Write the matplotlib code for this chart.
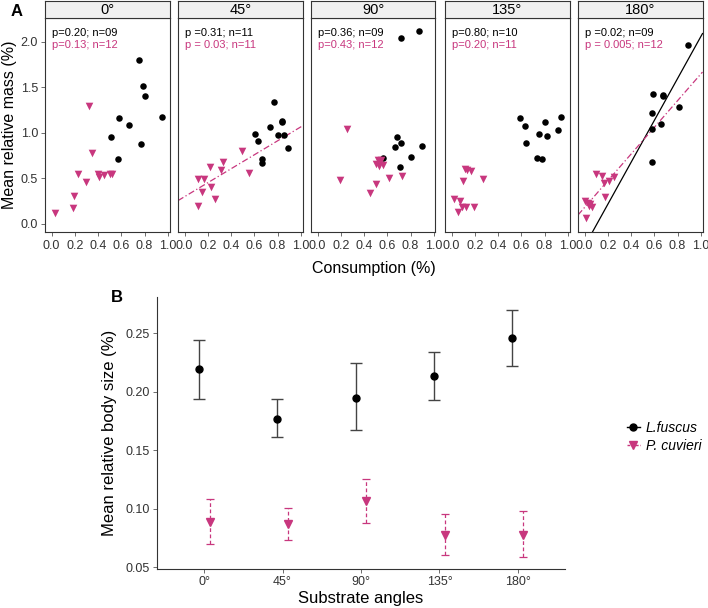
import numpy as np
import matplotlib
matplotlib.use("Agg")
import matplotlib.pyplot as plt
from matplotlib.lines import Line2D

plt.rcParams['font.family'] = ['Liberation Sans', 'DejaVu Sans']
narrow = ['Liberation Sans Narrow', 'Liberation Sans', 'DejaVu Sans']

pink = '#C8377E'

# ---- Panel A data (consumption vs relative mass) ----
angles = ['0°', '45°', '90°', '135°', '180°']

lf_x0 = [0.751, 0.791, 0.806, 0.58, 0.951, 0.666, 0.514, 0.769, 0.569]
lf_y0 = [1.799, 1.514, 1.404, 1.166, 1.177, 1.09, 0.951, 0.874, 0.713]
pc_x0 = [0.026, 0.186, 0.191, 0.231, 0.30, 0.323, 0.351, 0.40, 0.409, 0.449, 0.50, 0.52]
pc_y0 = [0.124, 0.172, 0.307, 0.548, 0.461, 1.294, 0.775, 0.548, 0.519, 0.541, 0.548, 0.548]

lf_x45 = [0.609, 0.634, 0.766, 0.734, 0.837, 0.840, 0.803, 0.86, 0.889, 0.669, 0.669]
lf_y45 = [0.987, 0.91, 1.342, 1.06, 1.133, 1.12, 0.98, 0.973, 0.834, 0.717, 0.665]
pc_x45 = [0.117, 0.163, 0.149, 0.114, 0.22, 0.223, 0.263, 0.309, 0.331, 0.491, 0.551]
pc_y45 = [0.49, 0.497, 0.351, 0.197, 0.622, 0.402, 0.271, 0.592, 0.68, 0.797, 0.563]

lf_x90 = [0.871, 0.717, 0.686, 0.717, 0.663, 0.903, 0.803, 0.566, 0.709]
lf_y90 = [2.113, 2.044, 0.954, 0.892, 0.845, 0.852, 0.735, 0.724, 0.625]
pc_x90 = [0.249, 0.189, 0.454, 0.506, 0.614, 0.726, 0.52, 0.534, 0.506, 0.563, 0.529, 0.546]
pc_y90 = [1.046, 0.483, 0.344, 0.442, 0.501, 0.523, 0.702, 0.691, 0.658, 0.651, 0.64, 0.702]

lf_x135 = [0.586, 0.634, 0.643, 0.751, 0.806, 0.82, 0.734, 0.78, 0.92, 0.943]
lf_y135 = [1.159, 1.079, 0.892, 0.991, 1.119, 0.962, 0.724, 0.717, 1.031, 1.17]
pc_x135 = [0.114, 0.134, 0.163, 0.097, 0.271, 0.023, 0.069, 0.057, 0.091, 0.123, 0.197]
pc_y135 = [0.6, 0.592, 0.585, 0.472, 0.49, 0.278, 0.256, 0.128, 0.19, 0.19, 0.19]

lf_x180 = [0.886, 0.586, 0.671, 0.677, 0.809, 0.58, 0.654, 0.58, 0.58]
lf_y180 = [1.967, 1.422, 1.404, 1.411, 1.283, 1.214, 1.097, 1.038, 0.684]
pc_x180 = [0.10, 0.149, 0.163, 0.214, 0.254, 0.177, 0.0, 0.026, 0.049, 0.063, 0.014, 0.04]
pc_y180 = [0.548, 0.53, 0.453, 0.472, 0.516, 0.30, 0.256, 0.234, 0.219, 0.183, 0.062, 0.197]

lf_x = [lf_x0, lf_x45, lf_x90, lf_x135, lf_x180]
lf_y = [lf_y0, lf_y45, lf_y90, lf_y135, lf_y180]
pc_x = [pc_x0, pc_x45, pc_x90, pc_x135, pc_x180]
pc_y = [pc_y0, pc_y45, pc_y90, pc_y135, pc_y180]

lf_txt = ['p=0.20; n=09', 'p =0.31; n=11', 'p=0.36; n=09', 'p=0.80; n=10', 'p =0.02; n=09']
pc_txt = ['p=0.13; n=12', 'p = 0.03; n=11', 'p=0.43; n=12', 'p=0.20; n=11', 'p = 0.005; n=12']

# fitted lines (intercept, slope), None where not significant
lf_fit = [None, None, None, None, (-0.243, 2.298)]
pc_fit = [None, (0.30, 0.765), None, None, (0.182, 1.463)]

# ---- Panel B data (body size by substrate angle) ----
lf_mean = [0.219, 0.177, 0.195, 0.213, 0.2455]
lf_lo = [0.194, 0.161, 0.1668, 0.193, 0.2218]
lf_hi = [0.244, 0.1936, 0.2244, 0.234, 0.270]
pc_mean = [0.0887, 0.0865, 0.1064, 0.0774, 0.0774]
pc_lo = [0.0694, 0.073, 0.0879, 0.060, 0.0583]
pc_hi = [0.108, 0.1007, 0.125, 0.095, 0.0979]

fig = plt.figure(figsize=(7.08, 6.08), dpi=100)

lefts = [45, 178, 311, 445, 578]
for i in range(5):
    ax = fig.add_axes([lefts[i] / 708, 1 - 232 / 608, 124.5 / 708, 214 / 608])
    ax.scatter(lf_x[i], lf_y[i], s=22, color='black', marker='o', zorder=3, linewidths=0)
    ax.scatter(pc_x[i], pc_y[i], s=30, color=pink, marker='v', zorder=3, linewidths=0)
    if lf_fit[i] is not None:
        ax.axline((0, lf_fit[i][0]), slope=lf_fit[i][1], color='black', lw=0.9)
    if pc_fit[i] is not None:
        ax.axline((0, pc_fit[i][0]), slope=pc_fit[i][1], color=pink, lw=0.9, ls=(0, (5, 2, 1, 2)))
    ax.set_xlim(-0.057, 1.015)
    ax.set_ylim(-0.088, 2.26)
    ax.set_xticks([0.0, 0.2, 0.4, 0.6, 0.8, 1.0])
    ax.set_xticklabels(['0.0', '0.2', '0.4', '0.6', '0.8', '1.0'], family=narrow, fontsize=9, color='#333333')
    ax.set_yticks([0.0, 0.5, 1.0, 1.5, 2.0])
    if i == 0:
        ax.set_yticklabels(['0.0', '0.5', '1.0', '1.5', '2.0'], family=narrow, fontsize=9, color='#333333')
        ax.set_ylabel('Mean relative mass (%)', fontsize=11.5, labelpad=3)
        ax.tick_params(axis='y', length=3, width=0.6, color='#555555', pad=2)
    else:
        ax.tick_params(axis='y', left=False, labelleft=False)
    ax.tick_params(axis='x', length=3, width=0.6, color='#555555', pad=3)
    for sp in ax.spines.values():
        sp.set_color('#333333')
        sp.set_linewidth(0.8)
    ax.text(0.0, 2.10, lf_txt[i], fontsize=8, color='black', va='center')
    ax.text(0.0, 1.96, pc_txt[i], fontsize=8, color=pink, va='center')

    sax = fig.add_axes([lefts[i] / 708, 1 - 18 / 608, 124.5 / 708, 17 / 608])
    sax.set_facecolor('#F0F0F0')
    sax.set_xticks([])
    sax.set_yticks([])
    for sp in sax.spines.values():
        sp.set_color('#333333')
        sp.set_linewidth(0.8)
    sax.text(0.5, 0.45, angles[i], ha='center', va='center', fontsize=10.5, transform=sax.transAxes)

fig.text(374 / 708, 1 - 268 / 608, 'Consumption (%)', ha='center', va='center', fontsize=11.5)
fig.text(17 / 708, 1 - 12 / 608, 'A', ha='center', va='center', fontsize=12, fontweight='bold')
fig.text(117 / 708, 1 - 298 / 608, 'B', ha='center', va='center', fontsize=12, fontweight='bold')

# ---- Panel B ----
axb = fig.add_axes([157 / 708, 1 - 569 / 608, 408 / 708, 272 / 608])
pos = np.arange(len(angles))
dodge = 0.07
lf_err = [np.array(lf_mean) - np.array(lf_lo), np.array(lf_hi) - np.array(lf_mean)]
pc_err = [np.array(pc_mean) - np.array(pc_lo), np.array(pc_hi) - np.array(pc_mean)]
axb.errorbar(pos - dodge, lf_mean, yerr=lf_err, fmt='o', color='black', ecolor='#444444',
             elinewidth=1.0, capsize=4, capthick=1.0, markersize=5)
eb = axb.errorbar(pos + dodge, pc_mean, yerr=pc_err, fmt='v', color=pink, ecolor=pink,
                  elinewidth=0.9, capsize=3, capthick=0.9, markersize=6)
eb[2][0].set_linestyle((0, (3, 2)))
axb.set_xlim(-0.6, 4.6)
axb.set_ylim(0.0483, 0.281)
axb.set_xticks(pos)
axb.set_xticklabels(angles, family=narrow, fontsize=9, color='#333333')
axb.set_yticks([0.05, 0.10, 0.15, 0.20, 0.25])
axb.set_yticklabels(['0.05', '0.10', '0.15', '0.20', '0.25'], family=narrow, fontsize=9, color='#333333')
axb.tick_params(length=3, width=0.6, color='#555555', pad=2)
axb.spines['top'].set_visible(False)
axb.spines['right'].set_visible(False)
axb.spines['left'].set_color('#333333')
axb.spines['bottom'].set_color('#333333')
axb.set_xlabel('Substrate angles', fontsize=12, labelpad=2)
axb.set_ylabel('Mean relative body size (%)', fontsize=12, labelpad=6)

handles = [Line2D([0], [0], color='black', marker='o', markersize=5, lw=1),
           Line2D([0], [0], color=pink, marker='v', markersize=6, lw=1, ls=(0, (2, 1)))]
fig.legend(handles, ['L.fuscus', 'P. cuvieri'], loc='center left',
           bbox_to_anchor=(614 / 708, 1 - 437 / 608), frameon=False,
           prop={'style': 'italic', 'size': 10, 'family': narrow},
           handlelength=1.0, handletextpad=0.4, labelspacing=0.3)

fig.savefig('out.png', dpi=100)
